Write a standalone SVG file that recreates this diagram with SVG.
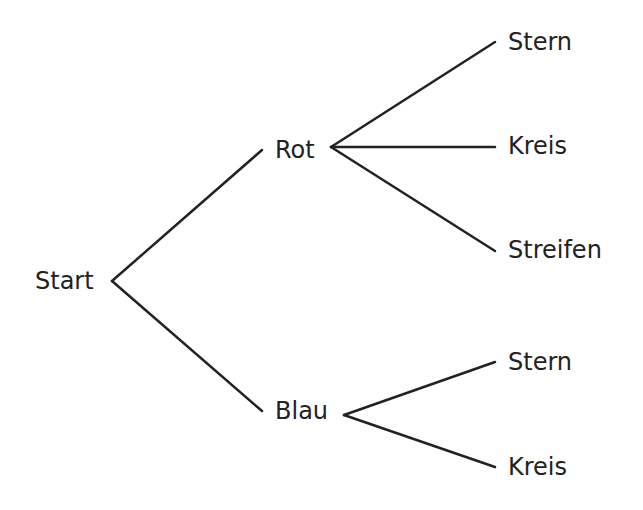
<svg xmlns="http://www.w3.org/2000/svg" width="643" height="510" viewBox="0 0 643 510">
<style>
text{font-family:"DejaVu Sans",sans-serif;font-size:24px;fill:#222}
line{stroke:#222;stroke-width:2.5;stroke-linecap:round}
</style>
<rect width="643" height="510" fill="#fff"/>
<g id="connectors">
<line x1="112" y1="281" x2="262" y2="150"/>
<line x1="112" y1="281" x2="262" y2="411"/>
<line x1="331" y1="147" x2="495" y2="42"/>
<line x1="331" y1="147" x2="495" y2="147"/>
<line x1="331" y1="147" x2="495" y2="251"/>
<line x1="344" y1="415" x2="495" y2="362"/>
<line x1="344" y1="415" x2="495" y2="467"/>
</g>
<g id="start"><text x="35" y="289">Start</text></g>
<g id="rot"><text x="275" y="158">Rot</text></g>
<g id="blau"><text x="275" y="419">Blau</text></g>
<g id="stern1"><text x="508" y="50">Stern</text></g>
<g id="kreis1"><text x="508" y="154">Kreis</text></g>
<g id="streifen"><text x="508" y="258">Streifen</text></g>
<g id="stern2"><text x="508" y="370">Stern</text></g>
<g id="kreis2"><text x="508" y="475">Kreis</text></g>
</svg>
